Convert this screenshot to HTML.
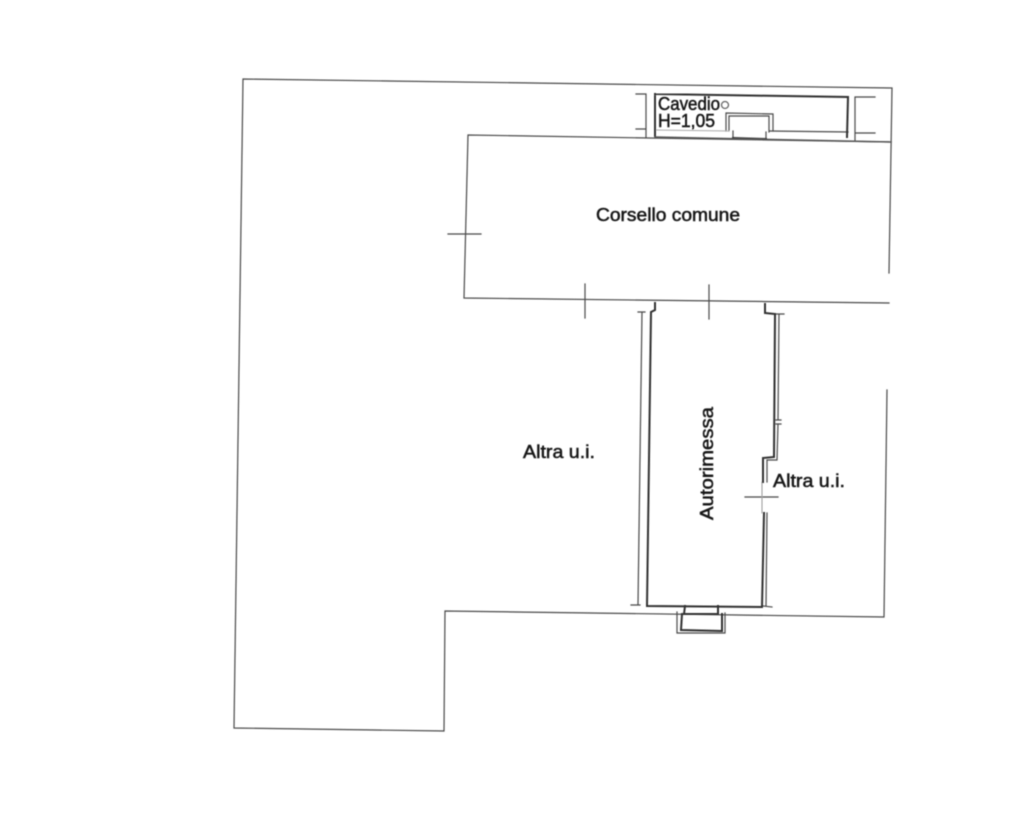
<!DOCTYPE html>
<html>
<head>
<meta charset="utf-8">
<style>
html,body{margin:0;padding:0;background:#fff;width:1020px;height:838px;overflow:hidden}
svg{display:block}
text{font-family:"Liberation Sans",sans-serif;fill:#141414;stroke:#141414;stroke-width:.5}
</style>
</head>
<body>
<svg width="1020" height="838" viewBox="0 0 1020 838" xmlns="http://www.w3.org/2000/svg">
<defs><filter id="b" x="-5%" y="-5%" width="110%" height="110%"><feGaussianBlur stdDeviation="0.5"/></filter></defs>
<rect width="1020" height="838" fill="#fff"/>
<g filter="url(#b)" fill="none" stroke-linecap="square">
  <!-- outer boundary -->
  <g stroke="#4a4a4a" stroke-width="1.2">
    <path d="M889 273 L892 88 L243 79 L234 728 L444 731 L445 611 L884 617 L887 390"/>
    <!-- common corridor -->
    <path d="M891 142 L468 135 L464 298 L889 303"/>
    <!-- corridor ticks -->
    <path d="M448 234 L481 234 M585 284 L585 318 M709 285 L709 319"/>
    <path d="M745 497 L778 497"/>
    <!-- cavedio side lines -->
    <path d="M636 94 L646 94 L646 137 M636 129 L646 129"/>
    <path d="M875 97 L855 97 L855 140 M875 133 L855 133"/>
    <!-- cavedio small box outer -->
    <path d="M726 131 L726 113 L773 114 L773 131"/>
    <path d="M729 131 L729 116 L769 116 L769 132"/>
    <path d="M733 131 L733 138 M766 132 L766 139"/>
    <path d="M770 131 L848 132"/>
    <!-- dimension line left -->
    <path d="M642 312 L638 604 M638 312 L645 312 M631 605 L640 605"/>
    <!-- dimension right -->
    <path d="M779 314 L778 420 M775 314 L784 314 M776 420 L781 420 M776 424 L781 424"/>
    <path d="M778 424 L777 460 L767 460 L767 482"/>
    <path d="M767 513 L766 606 M763 606 L772 607"/>
    <!-- bottom niche -->
    <path d="M677 612 L677 633 L725 633 L725 613"/>
  </g>
  <path d="M655 130 L729 131" stroke="#aaa" stroke-width="1"/>
  <path d="M762 482 L762 513" stroke="#999" stroke-width="1"/>
  <!-- thick walls -->
  <g stroke="#303030" stroke-width="2">
    <path d="M655 94 L848 97 L847 137 M655 94 L655 136"/>
    <path d="M655 303 L655 310 L651 312 L647 606 L762 607 L764 513"/>
    <path d="M765 304 L765 313 L775 314 L774 457 L763 458 L763 482"/>
    <path d="M682 614 L681 630 L722 631 L722 614"/>
    <path d="M685 606 L684 614 L718 614 L718 606"/>
    <path d="M733 138 L766 139"/>
  </g>
  <g stroke="#555" stroke-width="1.4">
    <path d="M655 137 L891 142"/>
  </g>
  <text x="658" y="110" font-size="18" textLength="62" lengthAdjust="spacingAndGlyphs">Cavedio</text>
  <text x="658" y="127" font-size="18" textLength="57" lengthAdjust="spacingAndGlyphs">H=1,05</text>
  <circle cx="725" cy="105" r="3.5" stroke="#666" stroke-width="1.3"/>
  <text x="596" y="221" font-size="18" textLength="144" lengthAdjust="spacingAndGlyphs">Corsello comune</text>
  <text x="523" y="458" font-size="18" textLength="72" lengthAdjust="spacingAndGlyphs">Altra u.i.</text>
  <text x="773" y="487" font-size="18" textLength="72" lengthAdjust="spacingAndGlyphs">Altra u.i.</text>
  <text transform="translate(713,520) rotate(-90)" font-size="18.5" textLength="113" lengthAdjust="spacingAndGlyphs">Autorimessa</text>
</g>
</svg>
</body>
</html>
